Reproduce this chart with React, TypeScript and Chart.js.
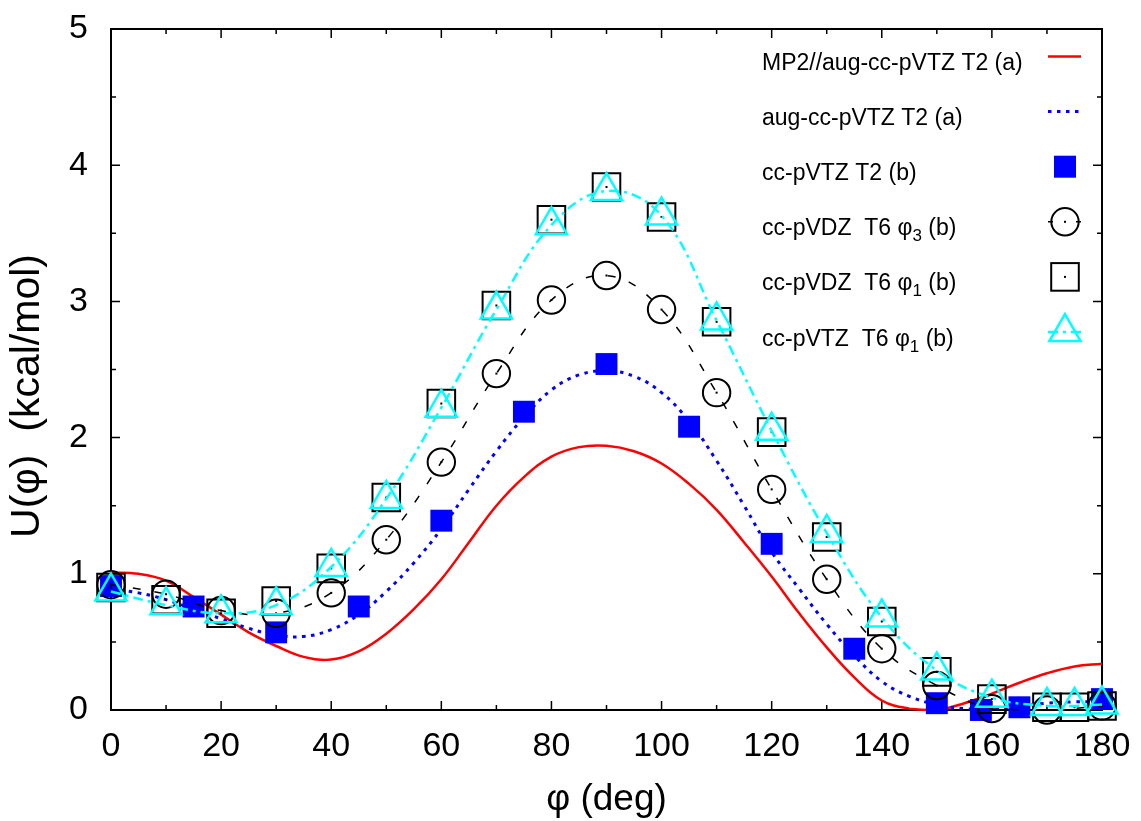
import React, { useEffect, useRef } from 'react';
import { Chart, registerables } from 'chart.js';

Chart.register(...registerables);

// MP2//aug-cc-pVTZ T2 (a) — smooth reference curve, sampled every 5°
const mp2Angles = [0, 5, 10, 15, 20, 25, 30, 35, 40, 45, 50, 55, 60, 65, 70, 75, 80, 85, 90, 95, 100, 105, 110, 115, 120, 125, 130, 135, 140, 145, 150, 155, 160, 165, 170, 175, 180];
const mp2Energy = [1.01, 1.0, 0.95, 0.83, 0.7, 0.57, 0.47, 0.39, 0.37, 0.43, 0.56, 0.74, 0.96, 1.23, 1.5, 1.71, 1.86, 1.93, 1.94, 1.9, 1.81, 1.66, 1.47, 1.23, 0.98, 0.71, 0.46, 0.24, 0.07, 0.01, 0.0, 0.05, 0.12, 0.2, 0.27, 0.32, 0.34];

// aug-cc-pVTZ T2 (a) — dotted curve, sampled every 5°
const augAngles = [0, 5, 10, 15, 20, 25, 30, 35, 40, 45, 50, 55, 60, 65, 70, 75, 80, 85, 90, 95, 100, 105, 110, 115, 120, 125, 130, 135, 140, 145, 150, 155, 160, 165, 170, 175, 180];
const augEnergy = [0.89, 0.86, 0.81, 0.74, 0.67, 0.6, 0.55, 0.54, 0.59, 0.7, 0.87, 1.08, 1.33, 1.62, 1.9, 2.15, 2.35, 2.46, 2.49, 2.45, 2.33, 2.12, 1.83, 1.5, 1.16, 0.89, 0.63, 0.4, 0.21, 0.1, 0.04, 0.01, 0.01, 0.03, 0.05, 0.06, 0.06];

// cc-pVTZ T2 (b) — filled squares
const tzT2Angles = [0, 15, 30, 45, 60, 75, 90, 105, 120, 135, 150, 158, 165, 180];
const tzT2Energy = [0.91, 0.76, 0.57, 0.76, 1.39, 2.19, 2.54, 2.08, 1.22, 0.45, 0.05, 0.0, 0.02, 0.08];

// cc-pVDZ T6 φ3 (b) — open circles with dashed spline
const dzPhi3Angles = [0, 10, 20, 30, 40, 50, 60, 70, 80, 90, 100, 110, 120, 130, 140, 150, 160, 170, 180];
const dzPhi3Energy = [0.92, 0.85, 0.73, 0.71, 0.86, 1.25, 1.82, 2.47, 3.01, 3.19, 2.94, 2.33, 1.62, 0.96, 0.45, 0.18, 0.01, 0.0, 0.03];

// cc-pVDZ T6 φ1 (b) — open squares, and cc-pVTZ T6 φ1 (b) — triangles with dash-dot spline
const phi1Angles = [0, 10, 20, 30, 40, 50, 60, 70, 80, 90, 100, 110, 120, 130, 140, 150, 160, 170, 175, 180];
const dzPhi1Energy = [0.9, 0.81, 0.71, 0.8, 1.04, 1.56, 2.25, 2.97, 3.6, 3.84, 3.62, 2.85, 2.04, 1.27, 0.65, 0.28, 0.08, 0.02, 0.02, 0.03];
const tzPhi1Energy = [0.87, 0.77, 0.71, 0.77, 1.05, 1.55, 2.22, 2.94, 3.56, 3.81, 3.63, 2.86, 2.05, 1.3, 0.68, 0.29, 0.09, 0.03, 0.03, 0.04];

const xTickValues = [0, 20, 40, 60, 80, 100, 120, 140, 160, 180];
const yTickValues = [0, 1, 2, 3, 4, 5];
const xMinorStep = 10;
const yMinorStep = 0.5;

const xTitle = 'φ (deg)';
const yTitle = 'U(φ)  (kcal/mol)';

type LegendText = { main: string; sub?: string; tail?: string };
const legendTexts: LegendText[] = [
  { main: 'MP2//aug-cc-pVTZ T2 (a)' },
  { main: 'aug-cc-pVTZ T2 (a)' },
  { main: 'cc-pVTZ T2 (b)' },
  { main: 'cc-pVDZ  T6 φ', sub: '3', tail: ' (b)' },
  { main: 'cc-pVDZ  T6 φ', sub: '1', tail: ' (b)' },
  { main: 'cc-pVTZ  T6 φ', sub: '1', tail: ' (b)' },
];

const FONT = '"Liberation Sans", Arial, Helvetica, sans-serif';
const RED = '#ff0000';
const BLUE = '#0000ff';
const CYAN = '#00ffff';
const BLACK = '#000000';

const DOT_DASH = [3.5, 5.5];
const DASHED = [8, 14];
const DASH_DOT = [10, 5, 3, 5];

const pts = (xs: number[], ys: number[]) => xs.map((x, i) => ({ x, y: ys[i] }));

const framePlugin = {
  id: 'frame',
  beforeDatasetsDraw(chart: any) {
    const { ctx, chartArea: a, scales } = chart;
    const xs = scales.x;
    const ys = scales.y;
    ctx.save();
    ctx.strokeStyle = BLACK;
    ctx.lineWidth = 2;
    ctx.strokeRect(a.left, a.top, a.right - a.left, a.bottom - a.top);
    ctx.lineWidth = 1.5;
    ctx.beginPath();
    for (let v = xs.min; v <= xs.max + 1e-9; v += xMinorStep) {
      const x = xs.getPixelForValue(v);
      const len = xTickValues.includes(v) ? 9 : 5;
      ctx.moveTo(x, a.bottom);
      ctx.lineTo(x, a.bottom - len);
      ctx.moveTo(x, a.top);
      ctx.lineTo(x, a.top + len);
    }
    for (let v = ys.min; v <= ys.max + 1e-9; v += yMinorStep) {
      const y = ys.getPixelForValue(v);
      const len = yTickValues.includes(v) ? 9 : 5;
      ctx.moveTo(a.left, y);
      ctx.lineTo(a.left + len, y);
      ctx.moveTo(a.right, y);
      ctx.lineTo(a.right - len, y);
    }
    ctx.stroke();
    ctx.restore();
  },
  afterDatasetDraw(chart: any, args: any) {
    const ds = chart.data.datasets[args.index];
    if (!ds.centerDot) return;
    const { ctx } = chart;
    ctx.save();
    ctx.fillStyle = BLACK;
    for (const el of args.meta.data) {
      ctx.fillRect(el.x - 1, el.y - 1, 2, 2);
    }
    ctx.restore();
  },
  afterDraw(chart: any) {
    const { ctx, chartArea: a } = chart;
    ctx.save();
    // axis titles
    ctx.fillStyle = BLACK;
    ctx.textAlign = 'center';
    ctx.textBaseline = 'middle';
    ctx.font = `37px ${FONT}`;
    ctx.fillText(xTitle, (a.left + a.right) / 2, 800);
    ctx.save();
    ctx.translate(28, 396);
    ctx.rotate(-Math.PI / 2);
    ctx.font = `41px ${FONT}`;
    ctx.fillText(yTitle, 0, 0);
    ctx.restore();

    // key
    const textX = 762;
    const sampleL = 1048;
    const sampleR = 1081;
    const sampleC = 1065;
    const rowTop = 56.5;
    const rowGap = 55.1;
    ctx.textAlign = 'left';
    ctx.textBaseline = 'alphabetic';
    legendTexts.forEach((t, i) => {
      const y = rowTop + i * rowGap;
      const base = y + 13.5;
      ctx.font = `23px ${FONT}`;
      ctx.fillStyle = BLACK;
      ctx.fillText(t.main, textX, base);
      let x = textX + ctx.measureText(t.main).width;
      if (t.sub) {
        ctx.font = `17px ${FONT}`;
        ctx.fillText(t.sub, x, base + 6);
        x += ctx.measureText(t.sub).width;
        ctx.font = `23px ${FONT}`;
      }
      if (t.tail) ctx.fillText(t.tail, x, base);
    });

    const line = (y: number, color: string, width: number, dash: number[]) => {
      ctx.save();
      ctx.strokeStyle = color;
      ctx.lineWidth = width;
      ctx.setLineDash(dash);
      ctx.beginPath();
      ctx.moveTo(sampleL, y);
      ctx.lineTo(sampleR, y);
      ctx.stroke();
      ctx.restore();
    };
    let y = rowTop;
    line(y, RED, 2.5, []);
    y += rowGap;
    line(y, BLUE, 3, DOT_DASH);
    y += rowGap;
    ctx.fillStyle = BLUE;
    ctx.fillRect(sampleC - 11, y - 11, 22, 22);
    y += rowGap;
    ctx.strokeStyle = BLACK;
    ctx.lineWidth = 1.5;
    ctx.beginPath();
    ctx.moveTo(sampleL, y);
    ctx.lineTo(sampleL + 5, y);
    ctx.moveTo(sampleR - 5, y);
    ctx.lineTo(sampleR, y);
    ctx.stroke();
    ctx.lineWidth = 2;
    ctx.beginPath();
    ctx.arc(sampleC, y, 13.7, 0, Math.PI * 2);
    ctx.stroke();
    ctx.fillStyle = BLACK;
    ctx.fillRect(sampleC - 1, y - 1, 2, 2);
    y += rowGap;
    ctx.lineWidth = 2;
    ctx.strokeRect(sampleC - 13.8, y - 13.8, 27.6, 27.6);
    ctx.fillRect(sampleC - 1, y - 1, 2, 2);
    y += rowGap;
    line(y, CYAN, 2.5, DASH_DOT);
    ctx.strokeStyle = CYAN;
    ctx.lineWidth = 2.5;
    ctx.beginPath();
    const r = 18;
    ctx.moveTo(sampleC, y - r);
    ctx.lineTo(sampleC + r * Math.sin((2 * Math.PI) / 3), y - r * Math.cos((2 * Math.PI) / 3));
    ctx.lineTo(sampleC + r * Math.sin((4 * Math.PI) / 3), y - r * Math.cos((4 * Math.PI) / 3));
    ctx.closePath();
    ctx.stroke();
    ctx.restore();
  },
};

// keep the plot box fixed: tick labels may overhang the layout padding
const zeroScalePadding = (s: any) => {
  s.paddingTop = 0;
  s.paddingBottom = 0;
  s.paddingLeft = 0;
  s.paddingRight = 0;
};

export default function App() {
  const canvasRef = useRef<HTMLCanvasElement>(null);

  useEffect(() => {
    document.body.style.margin = '0';
    const canvas = canvasRef.current;
    if (!canvas) return;

    const tickFont = { family: FONT, size: 34 };

    const chart = new Chart(canvas, {
      type: 'line',
      data: {
        datasets: [
          {
            label: legendTexts[0].main,
            data: pts(mp2Angles, mp2Energy),
            borderColor: RED,
            borderWidth: 2.5,
            pointRadius: 0,
            tension: 0.4,
            fill: false,
            clip: false,
            order: 6,
          },
          {
            label: legendTexts[1].main,
            data: pts(augAngles, augEnergy),
            borderColor: BLUE,
            borderWidth: 3,
            borderDash: DOT_DASH,
            pointRadius: 0,
            tension: 0.4,
            fill: false,
            clip: false,
            order: 5,
          },
          {
            label: legendTexts[2].main,
            data: pts(tzT2Angles, tzT2Energy),
            showLine: false,
            pointStyle: 'rect',
            pointRadius: 15.5,
            pointBackgroundColor: BLUE,
            pointBorderColor: BLUE,
            pointBorderWidth: 0,
            clip: false,
            order: 4,
          },
          {
            label: 'cc-pVDZ T6 φ3 (b)',
            data: pts(dzPhi3Angles, dzPhi3Energy),
            borderColor: BLACK,
            borderWidth: 1.5,
            borderDash: DASHED,
            tension: 0.4,
            pointStyle: 'circle',
            pointRadius: 13.7,
            pointBackgroundColor: 'rgba(0,0,0,0)',
            pointBorderColor: BLACK,
            pointBorderWidth: 2,
            fill: false,
            clip: false,
            centerDot: true,
            order: 3,
          } as any,
          {
            label: 'cc-pVDZ T6 φ1 (b)',
            data: pts(phi1Angles, dzPhi1Energy),
            showLine: false,
            pointStyle: 'rect',
            pointRadius: 19.5,
            pointBackgroundColor: 'rgba(0,0,0,0)',
            pointBorderColor: BLACK,
            pointBorderWidth: 2,
            clip: false,
            centerDot: true,
            order: 2,
          } as any,
          {
            label: 'cc-pVTZ T6 φ1 (b)',
            data: pts(phi1Angles, tzPhi1Energy),
            borderColor: CYAN,
            borderWidth: 2.5,
            borderDash: DASH_DOT,
            tension: 0.4,
            pointStyle: 'triangle',
            pointRadius: 18,
            pointBackgroundColor: 'rgba(0,0,0,0)',
            pointBorderColor: CYAN,
            pointBorderWidth: 2.5,
            fill: false,
            clip: false,
            order: 1,
          },
        ],
      },
      options: {
        responsive: false,
        devicePixelRatio: 1,
        animation: false,
        events: [],
        layout: { padding: { left: 0, top: 29, right: 39, bottom: 0 } },
        plugins: {
          legend: { display: false },
          tooltip: { enabled: false },
        },
        scales: {
          x: {
            type: 'linear',
            min: 0,
            max: 180,
            afterFit: (s: any) => {
              s.height = 111;
              zeroScalePadding(s);
            },
            afterBuildTicks: (s: any) => {
              s.ticks = xTickValues.map((value) => ({ value }));
            },
            grid: { display: false, drawTicks: false },
            border: { display: false },
            ticks: { font: tickFont, color: BLACK, padding: 16, maxRotation: 0 },
          },
          y: {
            type: 'linear',
            min: 0,
            max: 5,
            afterFit: (s: any) => {
              s.width = 111;
              zeroScalePadding(s);
            },
            afterBuildTicks: (s: any) => {
              s.ticks = yTickValues.map((value) => ({ value }));
            },
            grid: { display: false, drawTicks: false },
            border: { display: false },
            ticks: { font: tickFont, color: BLACK, padding: 23 },
          },
        },
      },
      plugins: [framePlugin],
    } as any);

    return () => chart.destroy();
  }, []);

  return (
    <div style={{ width: 1141, height: 821 }}>
      <canvas ref={canvasRef} width={1141} height={821} style={{ display: 'block' }} />
    </div>
  );
}
